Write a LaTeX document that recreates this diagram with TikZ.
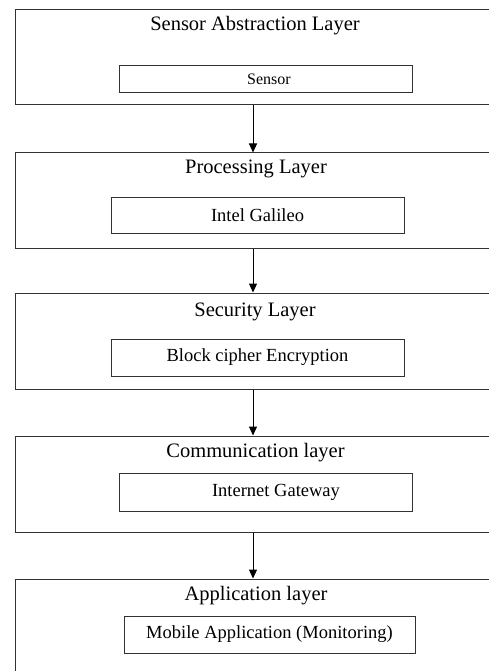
\documentclass[tikz,border=0pt]{standalone}
\usepackage{fontspec}
\setmainfont{Liberation Serif}
\usetikzlibrary{positioning,arrows.meta}

\begin{document}
\begin{tikzpicture}[x=1pt,y=-1pt,
  layer/.style={draw=black!80, line width=1pt, minimum width=476pt, inner sep=0pt},
  unit/.style={draw=black!80, line width=1pt, inner sep=0pt, font=\fontsize{18.5}{22}\selectfont},
  ltitle/.style={inner sep=0pt, font=\fontsize{20.5}{24}\selectfont},
  flow/.style={line width=1pt, -{Triangle[length=9pt,width=8pt]}}]
\useasboundingbox (0,0) rectangle (489,671);
\clip (0,0) rectangle (489,671);

% Layers (right edge runs off the page)
\node[layer, minimum height=95pt] (sal) at (253,57.5) {};
\node[layer, minimum height=95pt] (pl) at (253,200.5) {};
\node[layer, minimum height=96pt] (sl) at (253,341) {};
\node[layer, minimum height=96pt] (cl) at (253,484) {};
\node[layer, minimum height=96pt] (al) at (253,627) {};

% Layer titles
\node[ltitle] (salT) at (255,26) {Sensor Abstraction Layer};
\node[ltitle] (plT) at (256,169) {Processing Layer};
\node[ltitle] (slT) at (255,312) {Security Layer};
\node[ltitle] (clT) at (255.5,453) {Communication layer};
\node[ltitle] (alT) at (256,596) {Application layer};

% Components
\node[unit, minimum width=293pt, minimum height=27pt, font=\fontsize{16}{19}\selectfont] (sensor) at (265.5,79) {\hspace*{7pt}Sensor};
\node[unit, minimum width=293pt, minimum height=36pt] (galileo) at (257.5,215) {Intel Galileo};
\node[unit, minimum width=293pt, minimum height=37pt] (cipher) at (257.5,357.5) {Block cipher Encryption};
\node[unit, minimum width=293pt, minimum height=38pt] (gateway) at (265.5,492) {\hspace*{21pt}Internet Gateway};
\node[unit, minimum width=291pt, minimum height=37pt] (mobile) at (269.5,634.5) {Mobile Application (Monitoring)};

% Data flow between layers
\draw[flow] (sal.south) -- (pl.north);
\draw[flow] (pl.south) -- (sl.north);
\draw[flow] (sl.south) -- (cl.north);
\draw[flow] (cl.south) -- (al.north);

\end{tikzpicture}
\end{document}
